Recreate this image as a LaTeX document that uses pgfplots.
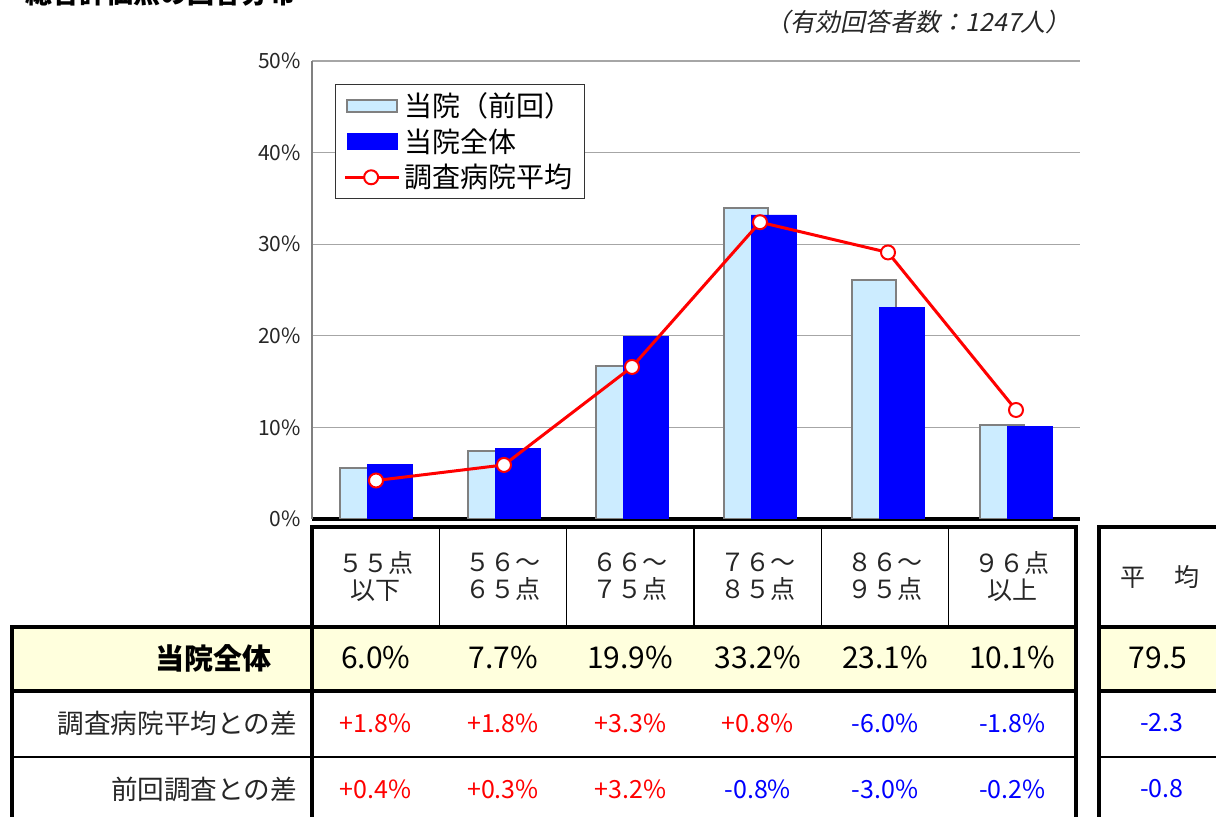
\documentclass[border=0pt]{standalone}
\usepackage{fontspec}
\setmainfont{Noto Sans CJK JP}
\newfontfamily\jpit[FakeSlant=0.2]{Noto Sans CJK JP}
\usepackage{pgfplots}
\pgfplotsset{compat=1.18}
\definecolor{lightprev}{RGB}{204,236,255}
\definecolor{yellowbg}{RGB}{255,255,221}
\definecolor{barblue}{RGB}{0,0,255}
\definecolor{negblue}{RGB}{0,0,255}
\begin{document}
\begin{tikzpicture}
\begin{scope}[x=0.5pt,y=0.5pt]
\node[anchor=base west, font=\fontsize{13.5}{15}\bfseries] at (18,813) {総合評価点の回答分布};
\node[anchor=east, font=\fontsize{12.5}{14}\jpit, text=black!85] at (1078,795) {（有効回答者数：1247人）};
\end{scope}

\begin{axis}[
  at={(156pt,149pt)}, anchor=south west,
  scale only axis, width=384pt, height=229pt,
  xmin=-0.5, xmax=5.5, ymin=0, ymax=50,
  xtick=\empty,
  ytick={0,10,20,30,40,50},
  yticklabel={\pgfmathprintnumber{\tick}\%},
  /pgf/number format/assume math mode=true,
  ymajorgrids, grid style={gray!70, line width=0.6pt},
  axis x line*=bottom, axis y line*=left,
  x axis line style={black, line width=1.6pt, -},
  y axis line style={gray, line width=0.8pt, -},
  major tick length=0pt,
  tick label style={font=\fontsize{10.5}{12}\selectfont, text=black!85},
  yticklabel style={xshift=-2pt},
  legend style={at={(0.03,0.95)}, anchor=north west, draw=black!80, line width=0.6pt,
    font=\fontsize{14}{16}\selectfont, row sep=0.5pt, inner xsep=4pt, inner ysep=2pt},
  legend cell align=left,
]
\addplot[ybar, bar width=0.35, bar shift=-0.11, fill=lightprev, draw=gray, line width=1pt,
  legend image code/.code={\draw[fill=lightprev, draw=gray, line width=1pt] (2pt,-3pt) rectangle (27pt,3pt);}]
  coordinates {(0,5.6) (1,7.4) (2,16.7) (3,34.0) (4,26.1) (5,10.3)};
\addlegendentry{当院（前回）}
\addplot[ybar, bar width=0.35, bar shift=0.105, fill=barblue, draw=barblue, line width=0.3pt,
  legend image code/.code={\fill[barblue] (2pt,-4pt) rectangle (27pt,4pt);}]
  coordinates {(0,6.0) (1,7.7) (2,19.9) (3,33.2) (4,23.1) (5,10.1)};
\addlegendentry{当院全体}
\addplot[red, line width=1.5pt, mark=*, mark size=3.5pt,
  mark options={fill=white, draw=red, line width=1pt},
  legend image code/.code={\draw[red, line width=1.5pt] (1pt,0pt) -- (28pt,0pt);
     \draw[red, fill=white, line width=1pt] (14pt,0pt) circle (3.5pt);}]
  coordinates {(0,4.2) (1,5.9) (2,16.6) (3,32.4) (4,29.1) (5,11.9)};
\addlegendentry{調査病院平均}
\end{axis}

\begin{scope}[x=0.5pt,y=0.5pt]
% fills
\fill[yellowbg] (12,126) rectangle (1076,190);
\fill[yellowbg] (1099,126) rectangle (1240,190);
% thin lines
\foreach \xx in {439.3,566.7,694,821.3,948.7} \draw[line width=0.6pt] (\xx,290) -- (\xx,190);
\draw[line width=0.6pt] (12,60) -- (1076,60);
\draw[line width=0.6pt] (1099,60) -- (1240,60);
% thick lines
\draw[line width=2pt] (312,-10) -- (312,290) -- (1076,290) -- (1076,-10);
\draw[line width=2pt] (12,-10) -- (12,190) -- (1076,190);
\draw[line width=2pt] (12,126) -- (1076,126);
\draw[line width=2pt] (1099,-10) -- (1099,290) -- (1240,290);
\draw[line width=2pt] (1099,190) -- (1240,190);
\draw[line width=2pt] (1099,126) -- (1240,126);
% header
\foreach \cx/\txt in {375.7/５５点\\以下, 503/５６～\\６５点, 630.3/６６～\\７５点, 757.7/７６～\\８５点, 885/８６～\\９５点, 1012.3/９６点\\以上}
  \node[align=center, font=\fontsize{12.5}{13.5}\selectfont, text=black!85] at (\cx,240) {\txt};
\node[font=\fontsize{12.5}{13}\selectfont, text=black!85] at (1160,240) {平\hspace{1.2em}均};
% yellow row
\node[anchor=east, font=\fontsize{14.5}{16}\bfseries] at (279,159) {当院全体};
\foreach \cx/\txt in {375.7/6.0\%, 503/7.7\%, 630.3/19.9\%, 757.7/33.2\%, 885/23.1\%, 1012.3/10.1\%}
  \node[font=\fontsize{15}{17}\selectfont] at (\cx,159) {\txt};
\node[font=\fontsize{15}{17}\selectfont] at (1158,159) {79.5};
% row 3
\node[anchor=east, font=\fontsize{13.3}{15}\selectfont, text=black!85] at (304,94) {調査病院平均との差};
\foreach \cx/\txt/\cc in {375.7/+1.8\%/red, 503/+1.8\%/red, 630.3/+3.3\%/red, 757.7/+0.8\%/red, 885/-6.0\%/negblue, 1012.3/-1.8\%/negblue}
  \node[font=\fontsize{12.5}{14}\selectfont, text=\cc] at (\cx,94) {\txt};
\node[font=\fontsize{12.5}{14}\selectfont, text=negblue] at (1162,94) {-2.3};
% row 4
\node[anchor=east, font=\fontsize{13.3}{15}\selectfont, text=black!85] at (304,28) {前回調査との差};
\foreach \cx/\txt/\cc in {375.7/+0.4\%/red, 503/+0.3\%/red, 630.3/+3.2\%/red, 757.7/-0.8\%/negblue, 885/-3.0\%/negblue, 1012.3/-0.2\%/negblue}
  \node[font=\fontsize{12.5}{14}\selectfont, text=\cc] at (\cx,28) {\txt};
\node[font=\fontsize{12.5}{14}\selectfont, text=negblue] at (1162,28) {-0.8};
\pgfresetboundingbox
\useasboundingbox (0,0) rectangle (1216,817);
\end{scope}
\end{tikzpicture}
\end{document}
